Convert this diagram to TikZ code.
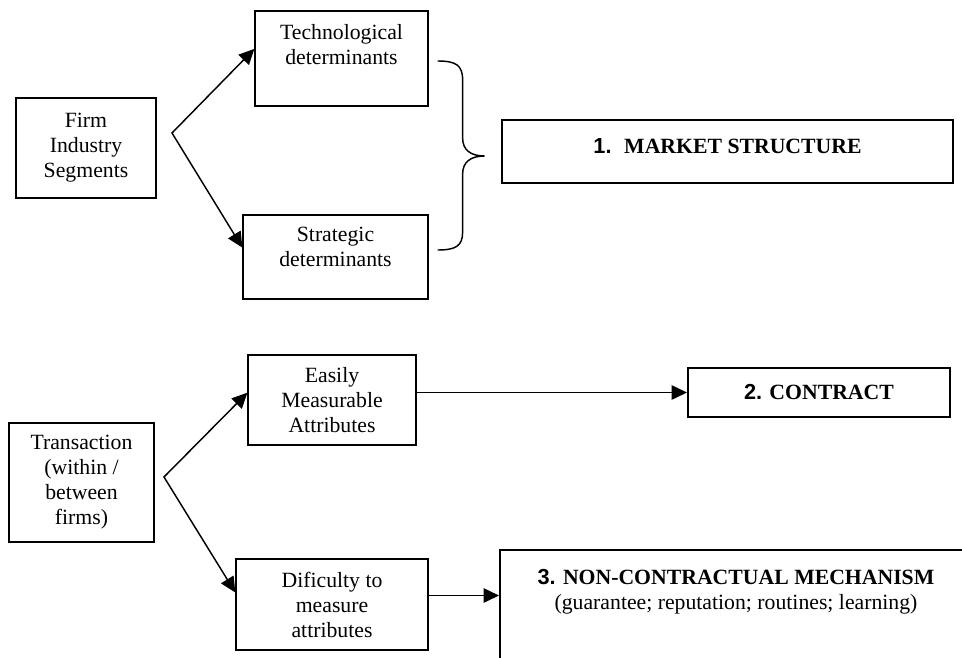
\documentclass[tikz,border=0pt]{standalone}
\usepackage{fontspec}
\setmainfont{Liberation Serif}
\setsansfont{Liberation Sans}
\usepackage{tikz}
\usetikzlibrary{calc,arrows.meta}
\newcommand{\boxline}{.7pt}
\newcommand{\heavyline}{1.2pt}
\newcommand{\padbelow}[1]{\rule[-#1]{0pt}{#1}}
\newcommand{\num}[1]{\textsf{\bfseries #1}}

\tikzset{
  plain/.style={draw, line width=\boxline, align=center, inner sep=0pt, font=\fontsize{12}{13.8}\selectfont},
  heavy/.style={plain, line width=\heavyline},
  arr/.style={line width=.8pt, >={Triangle[length=8.5pt,width=8pt]}}
}

\begin{document}
\begin{tikzpicture}[x=.552pt, y=-.552pt]
  \useasboundingbox (0,0) rectangle (962,657);
  \clip (0,0) rectangle (962,657);
  % market structure
    \node (firm) at (86,148) [heavy, minimum width=77.3pt, minimum height=55.2pt] {Firm\\Industry\\Segments};
    \node (tech) at (341.5,58.5) [plain, minimum width=95.5pt, minimum height=52.4pt] {Technological\\determinants\padbelow{15.7pt}};
    \node (strat) at (335.5,257) [plain, minimum width=102.1pt, minimum height=46.4pt] {Strategic\\determinants\padbelow{10.8pt}};
    \node (market) at (727.5,151.5) [heavy, minimum width=249pt, minimum height=34.8pt] {\num{1.}\hspace{7pt}\textbf{MARKET STRUCTURE}\padbelow{6pt}};
    \coordinate (fork1) at (172,133);
    \coordinate (btop) at ($(tech.east)+(9,2.5)$);

    \draw[arr, <->] ($(tech.north west)!.4!(tech.south west)$) to (fork1) to ($(strat.north west)!.39!(strat.south west)$);
    % brace
    \draw[line width=.8pt, shift={(btop)}] (0,0) .. controls (18,0) and (25,4) .. (25,19) to (25,77)
      .. controls (25,89) and (33,95) .. (47,95) .. controls (33,95) and (25,101) .. (25,113) to (25,171)
      .. controls (25,185) and (18,189) .. (0,189);

  % transactions
    \node (trans) at (81.5,482.5) [heavy, minimum width=80pt, minimum height=65.7pt] {Transaction\\(within /\\between\\firms)};
    \node (easy) at (332,400) [plain, minimum width=92.7pt, minimum height=49.7pt] {Easily\\Measurable\\Attributes};
    \node (dif) at (332,604.5) [plain, minimum width=106pt, minimum height=50.2pt] {Dificulty to\\measure\\attributes};
    \node (contract) at (819,392.5) [heavy, minimum width=144.6pt, minimum height=27pt] {\num{2.} \textbf{CONTRACT}};
    \node (nonc) at (736,610) [heavy, minimum width=260.5pt, minimum height=66.2pt]
      {\num{3.} \textbf{NON-CONTRACTUAL MECHANISM}\\(guarantee; reputation; routines; learning)\padbelow{23pt}};
    \coordinate (fork2) at (164,477);
    \coordinate (difout) at ($(dif.east)+(0,-9)$);

    \draw[arr, <->] ($(easy.north west)!.42!(easy.south west)$) to (fork2) to ($(dif.north west)!.37!(dif.south west)$);
    \draw[arr, ->] (easy.east |- contract.west) to (contract.west);
    \draw[arr, ->] (difout) to (difout -| nonc.west);
\end{tikzpicture}
\end{document}
